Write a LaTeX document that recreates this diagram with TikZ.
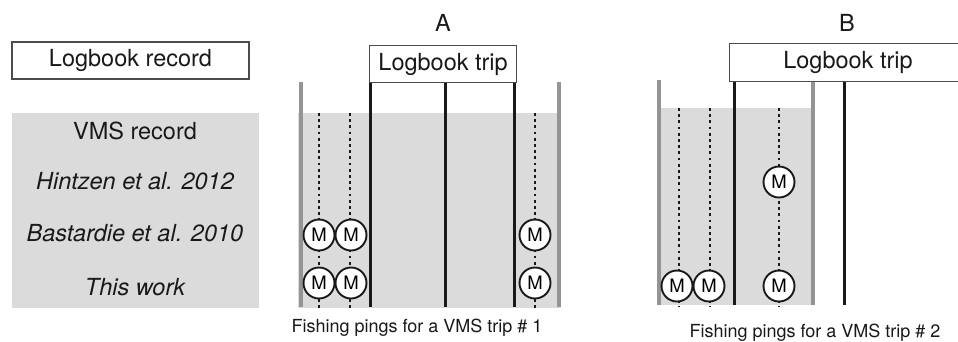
\documentclass[tikz,border=0pt]{standalone}
\usepackage{fontspec}
\setmainfont{TeX Gyre Heros}
\begin{document}
\begin{tikzpicture}[x=1pt,y=-1pt,
  recbox/.style={draw=black!70,line width=1.2pt,fill=white,inner sep=0pt},
  lbl/.style={font=\fontsize{23.5}{26}\selectfont,text=black!90},
  ilbl/.style={font=\fontsize{23.5}{26}\selectfont\itshape,text=black!90},
  captext/.style={font=\fontsize{18}{20}\selectfont,text=black!90},
  tripedge/.style={draw=black!42,line width=3.8pt},
  tripline/.style={draw=black!90,line width=3pt},
  ping/.style={draw=black!90,line width=2pt,dash pattern=on 2.8pt off 3.4pt},
  mnode/.style={circle,draw=black!90,line width=1.9pt,fill=white,minimum size=31pt,inner sep=0pt,font=\fontsize{18.5}{20}\selectfont}
]
\useasboundingbox (0,0) rectangle (958,341);

% --- legend column ---
\node[recbox,minimum width=237pt,minimum height=37pt,lbl] (logrec) at (130.5,60.5) {Logbook record};
\fill[black!14] (12,113) rectangle (259,308);
\node[lbl] (vms) at (135,131) {VMS record};
\node[ilbl] (hin) at (135,181) {Hintzen et al. 2012};
\node[ilbl] (bas) at (135,233) {Bastardie et al. 2010};
\node[ilbl] (tw) at (135,287) {This work};

% --- panel A ---
\node[lbl] (tA) at (443,23) {A};
\fill[black!14] (298,113) rectangle (561,308);
\coordinate (aE1t) at (301,82); \coordinate (aE1b) at (301,307);
\coordinate (aE2t) at (559,82); \coordinate (aE2b) at (559,307);
\draw[tripedge] (aE1t) -- (aE1b);
\draw[tripedge] (aE2t) -- (aE2b);
\coordinate (aL1t) at (370,82); \coordinate (aL1b) at (370,307);
\coordinate (aL2t) at (445,82); \coordinate (aL2b) at (445,307);
\coordinate (aL3t) at (514,82); \coordinate (aL3b) at (514,307);
\draw[tripline] (aL1t) -- (aL1b);
\draw[tripline] (aL2t) -- (aL2b);
\draw[tripline] (aL3t) -- (aL3b);
\node[recbox,minimum width=147pt,minimum height=37pt,lbl,anchor=north west] (tripA) at (369,45) {Logbook trip};
\foreach \n/\x in {1/319,2/350,3/535}{
  \coordinate (aP\n t) at (\x,113);
  \coordinate (aP\n b) at (\x,309);
  \draw[ping] (aP\n t) -- (aP\n b);
}
\node[mnode] (aM1) at (319,235) {M};
\node[mnode] (aM2) at (351,235) {M};
\node[mnode] (aM3) at (535,235) {M};
\node[mnode] (aM4) at (319,283) {M};
\node[mnode] (aM5) at (351,283) {M};
\node[mnode] (aM6) at (535,283) {M};
\node[captext] (cA) at (417,328) {Fishing pings for a VMS trip \# 1};

% --- panel B ---
\node[lbl] (tB) at (847,23) {B};
\fill[black!14] (661,108) rectangle (813,305);
\coordinate (bE1t) at (659,80); \coordinate (bE1b) at (659,305);
\coordinate (bE2t) at (813,82); \coordinate (bE2b) at (813,305);
\draw[tripedge] (bE1t) -- (bE1b);
\draw[tripedge] (bE2t) -- (bE2b);
\coordinate (bL1t) at (734,81); \coordinate (bL1b) at (734,305);
\coordinate (bL2t) at (844,81); \coordinate (bL2b) at (844,305);
\draw[tripline] (bL1t) -- (bL1b);
\draw[tripline] (bL2t) -- (bL2b);
\node[recbox,minimum width=240pt,minimum height=38pt,anchor=north west] (tripB) at (729,43) {};
\node[lbl] (tripBt) at (848,62) {Logbook trip};
\foreach \n/\x in {1/679,2/710,3/779}{
  \coordinate (bP\n t) at (\x,108);
  \coordinate (bP\n b) at (\x,307);
  \draw[ping] (bP\n t) -- (bP\n b);
}
\node[mnode] (bM1) at (779,182) {M};
\node[mnode] (bM2) at (677,286) {M};
\node[mnode] (bM3) at (709,286) {M};
\node[mnode] (bM4) at (779,286) {M};
\node[captext] (cB) at (815,333) {Fishing pings for a VMS trip \# 2};
\end{tikzpicture}
\end{document}
